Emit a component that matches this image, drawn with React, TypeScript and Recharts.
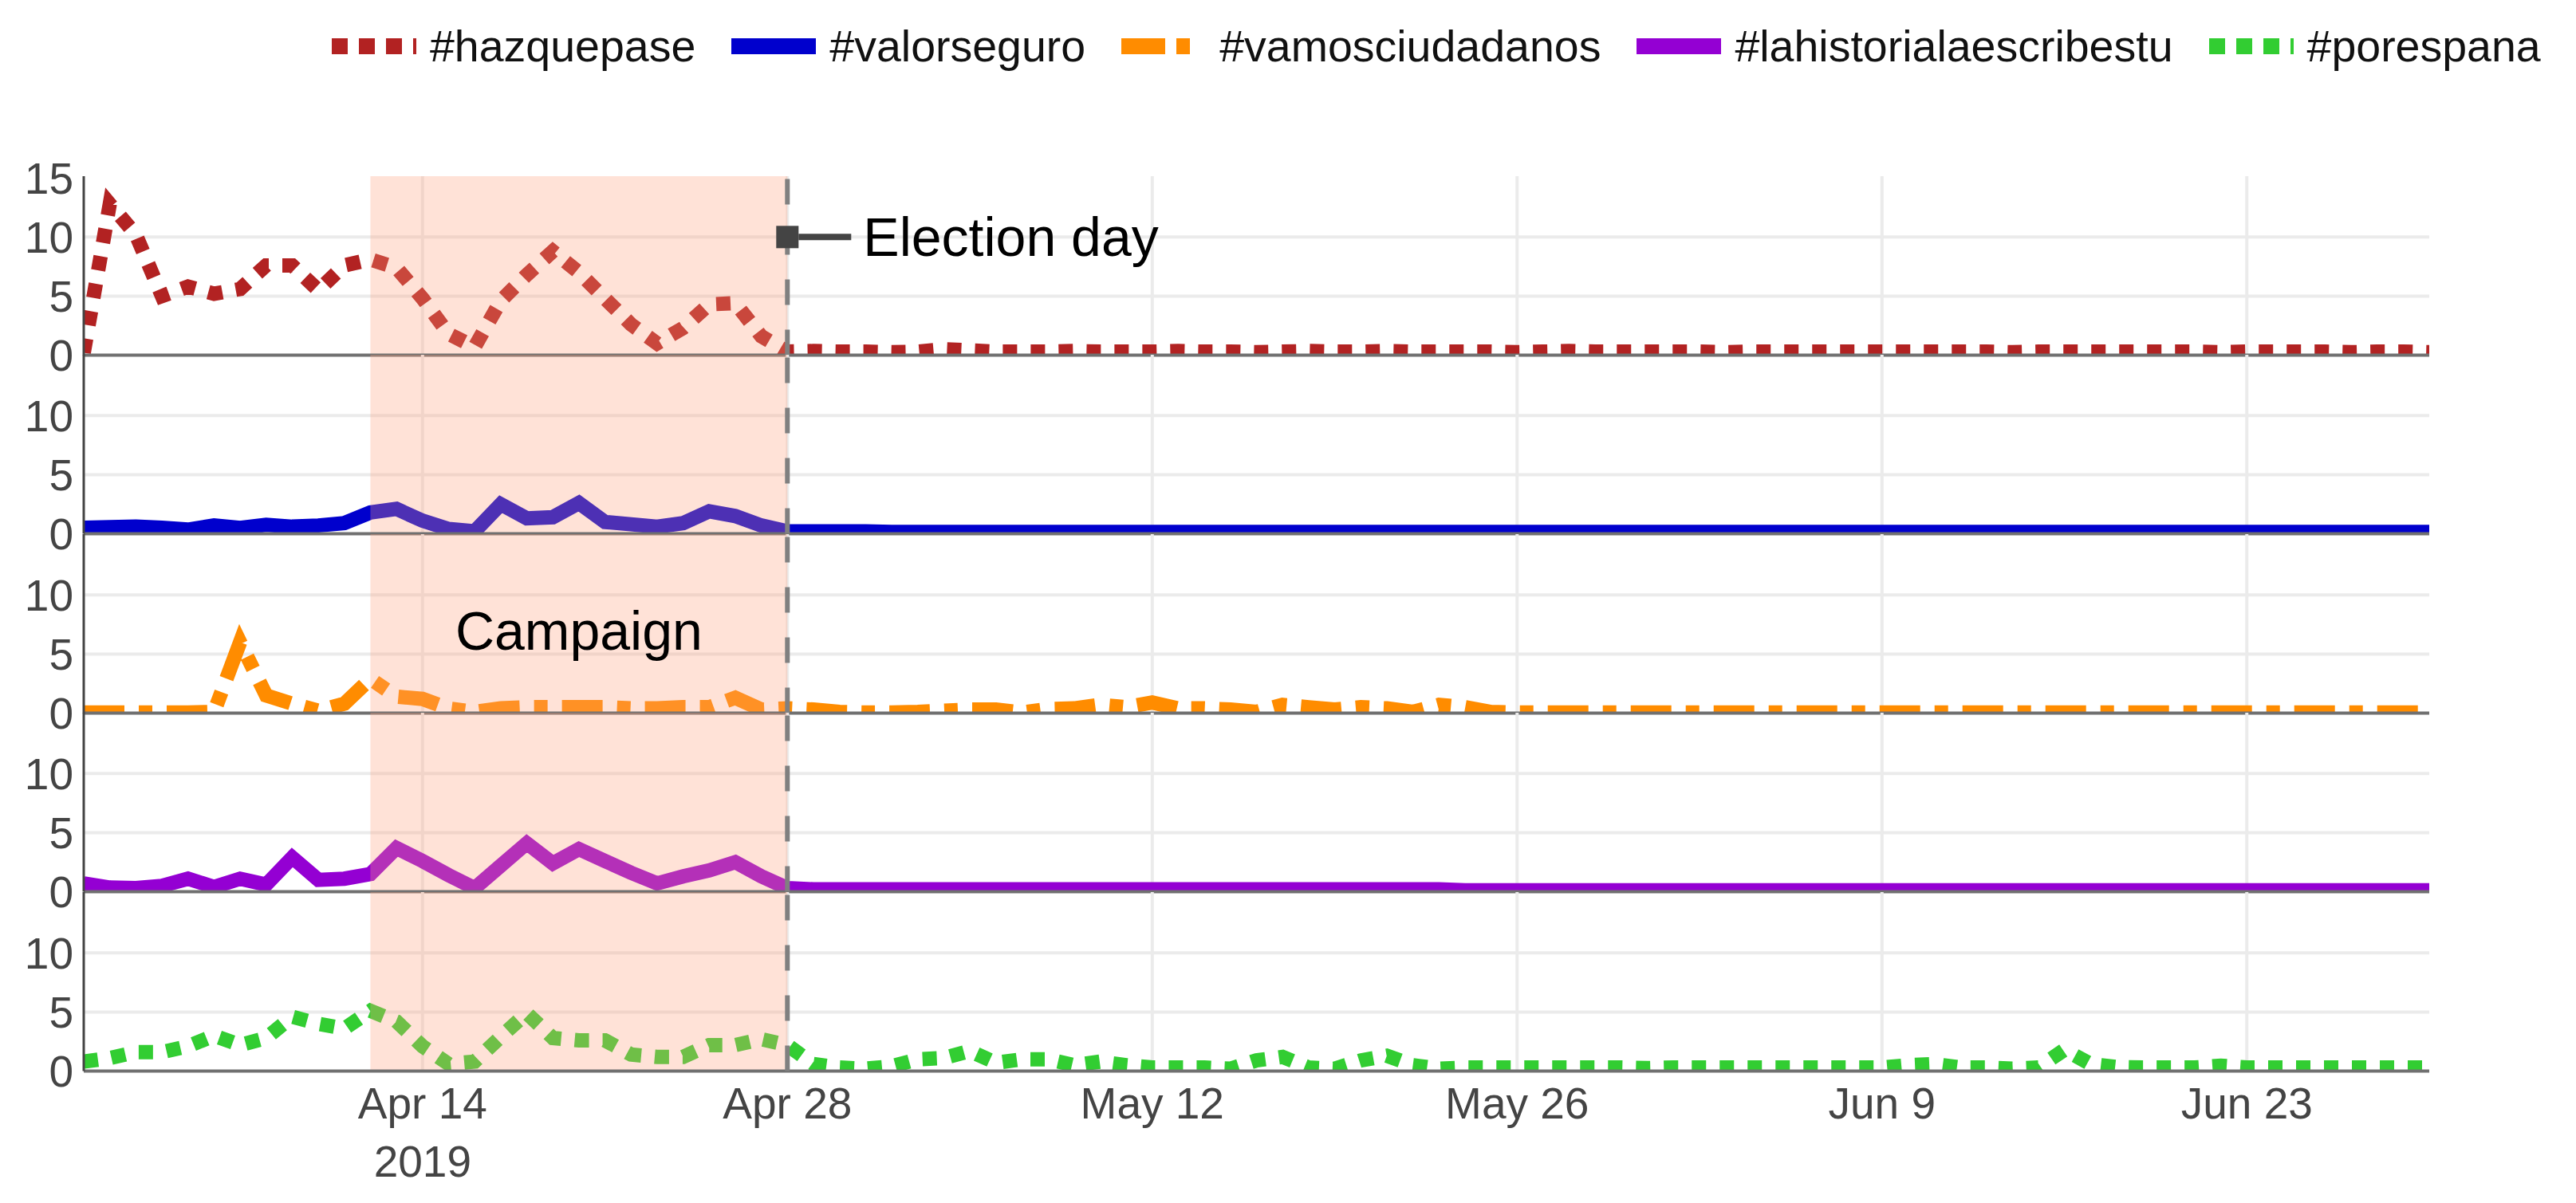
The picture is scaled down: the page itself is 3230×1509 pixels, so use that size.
import React from 'react'
import {
  LineChart,
  Line,
  XAxis,
  YAxis,
  ReferenceArea,
  ReferenceLine,
  ReferenceDot,
} from 'recharts'

// day index, counted from Apr 1 2019 (one point per day up to Jun 30)
const DAYS = Array.from({ length: 91 }, (_, i) => i)

const TICK_DAYS = [13, 27, 41, 55, 69, 83]
const TICK_LABELS = ['Apr 14', 'Apr 28', 'May 12', 'May 26', 'Jun 9', 'Jun 23']
const TICK_YEAR = '2019'
const GRID_VALUES = [5, 10]

const CAMPAIGN_START = 11 // Apr 12
const ELECTION_DAY = 27 // Apr 28

const HAZQUEPASE = [
  0.2, 12.8, 10.2, 5.0, 5.8, 5.2, 5.6, 7.6, 7.6, 5.5,
  7.6, 8.1, 7.4, 4.8, 1.8, 0.7, 4.6, 6.8, 8.8, 7.0,
  4.8, 2.6, 1.0, 2.3, 4.3, 4.4, 1.6, 0.3, 0.35, 0.3,
  0.3, 0.25, 0.3, 0.5, 0.4, 0.3, 0.3, 0.3, 0.35, 0.3,
  0.3, 0.3, 0.35, 0.3, 0.3, 0.25, 0.3, 0.35, 0.3, 0.3,
  0.35, 0.3, 0.3, 0.3, 0.3, 0.25, 0.3, 0.35, 0.3, 0.3,
  0.3, 0.3, 0.3, 0.25, 0.3, 0.3, 0.3, 0.3, 0.3, 0.3,
  0.3, 0.3, 0.3, 0.3, 0.25, 0.3, 0.3, 0.3, 0.3, 0.3,
  0.3, 0.3, 0.25, 0.3, 0.3, 0.3, 0.3, 0.25, 0.3, 0.3,
  0.25,
]

const VALORSEGURO = [
  0.5, 0.55, 0.6, 0.5, 0.35, 0.7, 0.5, 0.75, 0.6, 0.7,
  0.9, 1.8, 2.1, 1.1, 0.4, 0.2, 2.5, 1.3, 1.4, 2.6,
  1.0, 0.8, 0.6, 0.9, 1.9, 1.5, 0.7, 0.2, 0.2, 0.2,
  0.2, 0.15, 0.15, 0.15, 0.15, 0.15, 0.15, 0.15, 0.15, 0.15,
  0.15, 0.15, 0.15, 0.15, 0.15, 0.15, 0.15, 0.15, 0.15, 0.15,
  0.15, 0.15, 0.15, 0.15, 0.15, 0.15, 0.15, 0.15, 0.15, 0.15,
  0.15, 0.15, 0.15, 0.15, 0.15, 0.15, 0.15, 0.15, 0.15, 0.15,
  0.15, 0.15, 0.15, 0.15, 0.15, 0.15, 0.15, 0.15, 0.15, 0.15,
  0.15, 0.15, 0.15, 0.15, 0.15, 0.15, 0.15, 0.15, 0.15, 0.15,
  0.15,
]

const VAMOSCIUDADANOS = [
  0.05, 0.05, 0.05, 0.05, 0.05, 0.1, 6.0, 1.5, 0.8, 0.2,
  0.8, 2.9, 1.4, 1.2, 0.4, 0.1, 0.4, 0.5, 0.5, 0.5,
  0.5, 0.4, 0.4, 0.5, 0.5, 1.3, 0.3, 0.4, 0.3, 0.1,
  0.05, 0.05, 0.1, 0.2, 0.3, 0.3, 0.05, 0.35, 0.4, 0.7,
  0.5, 0.9, 0.4, 0.4, 0.3, 0.1, 0.7, 0.5, 0.3, 0.5,
  0.4, 0.1, 0.7, 0.5, 0.1, 0.05, 0.05, 0.05, 0.05, 0.05,
  0.05, 0.05, 0.05, 0.05, 0.05, 0.05, 0.05, 0.05, 0.05, 0.05,
  0.05, 0.05, 0.05, 0.05, 0.05, 0.05, 0.05, 0.05, 0.05, 0.05,
  0.05, 0.05, 0.05, 0.05, 0.05, 0.05, 0.05, 0.05, 0.05, 0.05,
  0.05,
]

const LAHISTORIA = [
  0.7, 0.35, 0.3, 0.5, 1.1, 0.4, 1.1, 0.6, 2.9, 1.0,
  1.1, 1.5, 3.7, 2.6, 1.4, 0.3, 2.2, 4.1, 2.4, 3.6,
  2.6, 1.6, 0.7, 1.3, 1.8, 2.5, 1.3, 0.3, 0.2, 0.2,
  0.2, 0.2, 0.2, 0.2, 0.2, 0.2, 0.2, 0.2, 0.2, 0.2,
  0.2, 0.2, 0.2, 0.2, 0.2, 0.2, 0.2, 0.2, 0.2, 0.2,
  0.2, 0.2, 0.2, 0.12, 0.12, 0.12, 0.12, 0.12, 0.12, 0.12,
  0.12, 0.12, 0.12, 0.12, 0.12, 0.12, 0.12, 0.12, 0.12, 0.12,
  0.12, 0.12, 0.12, 0.12, 0.12, 0.12, 0.12, 0.12, 0.12, 0.12,
  0.12, 0.12, 0.12, 0.12, 0.12, 0.12, 0.12, 0.12, 0.12, 0.12,
  0.12,
]

const PORESPANA = [
  0.8, 1.1, 1.6, 1.6, 2.1, 3.0, 2.2, 2.8, 4.6, 4.0,
  3.6, 5.1, 4.2, 2.1, 0.6, 0.8, 2.9, 4.9, 2.8, 2.6,
  2.6, 1.4, 1.2, 1.2, 2.2, 2.2, 2.7, 2.2, 0.6, 0.3,
  0.2, 0.4, 1.0, 1.1, 1.7, 0.7, 1.0, 1.0, 0.5, 0.8,
  0.5, 0.3, 0.3, 0.3, 0.2, 0.9, 1.2, 0.3, 0.2, 0.9,
  1.3, 0.5, 0.2, 0.3, 0.3, 0.3, 0.3, 0.3, 0.3, 0.3,
  0.25, 0.3, 0.3, 0.3, 0.3, 0.3, 0.3, 0.3, 0.3, 0.3,
  0.5, 0.6, 0.3, 0.3, 0.2, 0.3, 1.8, 0.6, 0.35, 0.3,
  0.3, 0.3, 0.45, 0.3, 0.3, 0.3, 0.3, 0.3, 0.3, 0.3,
  0.3,
]

const FONT = '"Liberation Sans", Arial, Helvetica, sans-serif'
const DOT = '18 17'
const DASHDOT = '51 18 17 18'

const SERIES = [
  { key: 'hazquepase', name: '#hazquepase', color: '#b22222', dash: DOT, legendDash: '20 14' },
  { key: 'valorseguro', name: '#valorseguro', color: '#0000cd', dash: undefined, legendDash: undefined },
  { key: 'vamosciudadanos', name: '#vamosciudadanos', color: '#ff8c00', dash: DASHDOT, legendDash: '55 14 17 20' },
  { key: 'lahistorialaescribestu', name: '#lahistorialaescribestu', color: '#9400d3', dash: undefined, legendDash: undefined },
  { key: 'porespana', name: '#porespana', color: '#32cd32', dash: DOT, legendDash: '20 14' },
]

const data = DAYS.map((day, i) => ({
  day,
  hazquepase: HAZQUEPASE[i],
  valorseguro: VALORSEGURO[i],
  vamosciudadanos: VAMOSCIUDADANOS[i],
  lahistorialaescribestu: LAHISTORIA[i],
  porespana: PORESPANA[i],
}))

const W = 3230
const PLOT_LEFT = 105
const PLOT_RIGHT = 3046
const PANEL_H = 224.5
const FIRST_TOP = 220.5
const M_TOP = 40
const X_AXIS_H = 140
const Y_MAX = 15.15

const DateTick = ({ x, y, payload }: any) => {
  const i = TICK_DAYS.indexOf(payload.value)
  return (
    <g>
      <text x={x} y={y + 59} textAnchor="middle" fill="#444" fontSize={55} fontFamily={FONT}>
        {TICK_LABELS[i]}
      </text>
      {i === 0 && (
        <text x={x} y={y + 132} textAnchor="middle" fill="#444" fontSize={55} fontFamily={FONT}>
          {TICK_YEAR}
        </text>
      )}
    </g>
  )
}

const ElectionMarker = ({ cx, cy }: any) => (
  <g>
    <rect x={cx - 14} y={cy - 14} width={28} height={28} fill="#444" />
    <line x1={cx + 14} y1={cy} x2={cx + 80} y2={cy} stroke="#444" strokeWidth={8} />
    <text x={cx + 95} y={cy} dominantBaseline="central" fontSize={68} fill="#000" fontFamily={FONT}>
      Election day
    </text>
  </g>
)

const CampaignLabel = ({ cx, cy }: any) => (
  <text x={cx} y={cy} textAnchor="middle" dominantBaseline="central" fontSize={68} fill="#000" fontFamily={FONT}>
    Campaign
  </text>
)

function Panel({ index }: { index: number }) {
  const s = SERIES[index]
  const last = index === SERIES.length - 1
  const bottom = last ? 20 : 40
  const height = M_TOP + PANEL_H + bottom + (last ? X_AXIS_H : 0)

  return (
    <div style={{ position: 'absolute', left: 0, top: FIRST_TOP + index * PANEL_H - M_TOP }}>
      <LineChart
        width={W}
        height={height}
        data={data}
        margin={{ top: M_TOP, right: W - PLOT_RIGHT, bottom, left: 0 }}
      >
        <XAxis
          type="number"
          dataKey="day"
          domain={[0, 90]}
          ticks={TICK_DAYS}
          interval={0}
          hide={!last}
          allowDataOverflow
          height={X_AXIS_H}
          tickSize={0}
          tickMargin={0}
          axisLine={false}
          tickLine={false}
          tick={<DateTick />}
        />
        <YAxis
          type="number"
          domain={[0, Y_MAX]}
          ticks={index === 0 ? [0, 5, 10, 15] : [0, 5, 10]}
          interval={0}
          allowDataOverflow
          width={PLOT_LEFT}
          tickSize={0}
          tickMargin={13}
          tickLine={false}
          axisLine={{ stroke: '#444', strokeWidth: 3 }}
          tick={{ fill: '#444', fontSize: 55, fontFamily: FONT }}
        />
        {GRID_VALUES.map((v) => (
          <ReferenceLine key={`h${v}`} y={v} stroke="#ebebeb" strokeWidth={4} zIndex={-90} />
        ))}
        {TICK_DAYS.map((d) => (
          <ReferenceLine key={`v${d}`} x={d} stroke="#ebebeb" strokeWidth={4} zIndex={-90} />
        ))}
        <Line
          type="linear"
          dataKey={s.key}
          stroke={s.color}
          strokeWidth={18}
          strokeDasharray={s.dash}
          dot={false}
          activeDot={false}
          isAnimationActive={false}
        />
        <ReferenceArea
          x1={CAMPAIGN_START}
          x2={ELECTION_DAY}
          fill="#ffa07a"
          fillOpacity={0.3}
          stroke="none"
          zIndex={450}
        />
        <ReferenceLine y={0} stroke="#707070" strokeWidth={4} zIndex={455} />
        <ReferenceLine
          x={ELECTION_DAY}
          stroke="#808080"
          strokeWidth={6}
          strokeDasharray="32 31"
          zIndex={460}
        />
        {index === 0 && (
          <ReferenceDot x={ELECTION_DAY} y={10} r={0} shape={ElectionMarker} zIndex={470} />
        )}
        {index === 2 && (
          <ReferenceDot
            x={(CAMPAIGN_START + ELECTION_DAY) / 2}
            y={7}
            r={0}
            shape={CampaignLabel}
            zIndex={470}
          />
        )}
      </LineChart>
    </div>
  )
}

function Legend() {
  return (
    <div
      style={{
        position: 'absolute',
        left: 416,
        top: 30,
        display: 'flex',
        alignItems: 'center',
        fontFamily: FONT,
        fontSize: 55.5,
        lineHeight: '56px',
        color: '#111',
        whiteSpace: 'nowrap',
      }}
    >
      {SERIES.map((s) => (
        <div key={s.key} style={{ display: 'flex', alignItems: 'center', marginRight: 45 }}>
          <svg width={106} height={24} style={{ display: 'block', marginRight: 17 }}>
            <line x1={0} y1={12} x2={106} y2={12} stroke={s.color} strokeWidth={20} strokeDasharray={s.legendDash} />
          </svg>
          <span>{s.name}</span>
        </div>
      ))}
    </div>
  )
}

export default function App() {
  return (
    <div
      style={{
        position: 'absolute',
        left: 0,
        top: 0,
        width: W,
        height: 1509,
        background: '#fff',
        overflow: 'hidden',
      }}
    >
      {SERIES.map((s, i) => (
        <Panel key={s.key} index={i} />
      ))}
      <Legend />
    </div>
  )
}
